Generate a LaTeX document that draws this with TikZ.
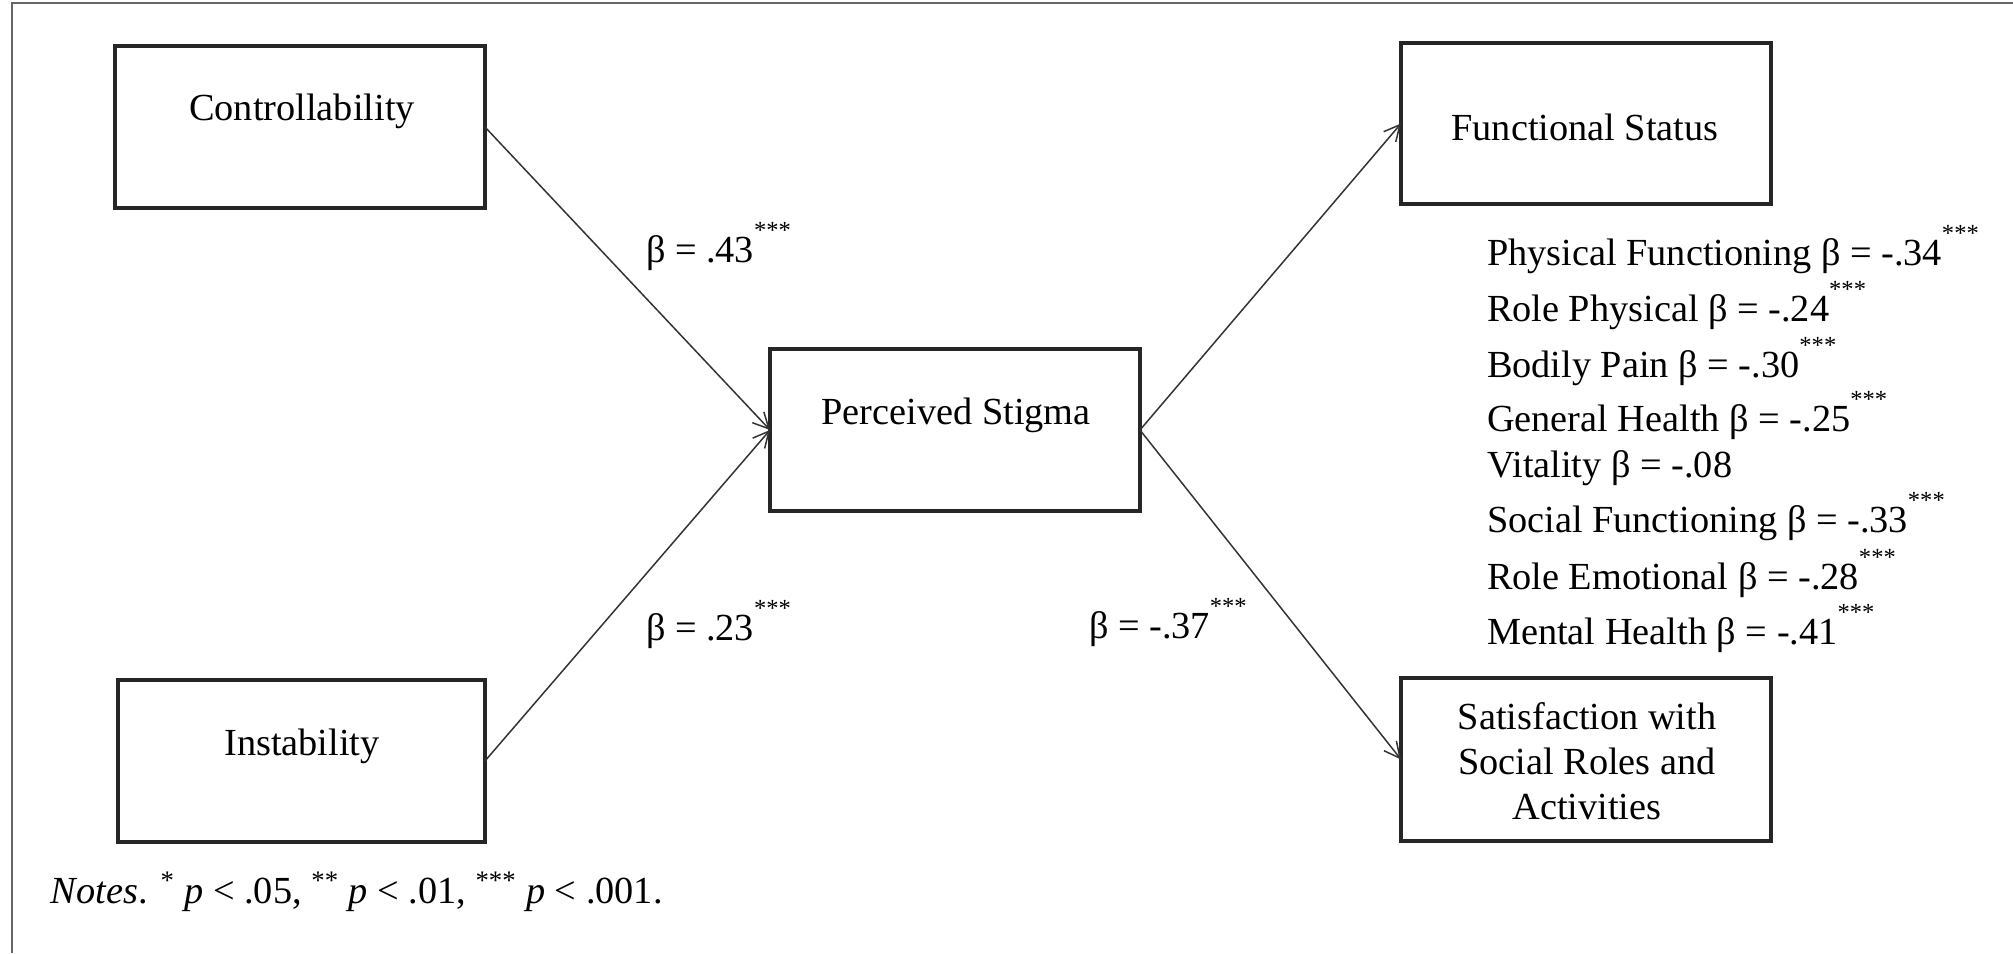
\documentclass[tikz,border=0pt]{standalone}
\usepackage{fontspec}
\setmainfont{Liberation Serif}
\usetikzlibrary{arrows.meta}
\newcommand{\mystars}{\raisebox{0.62em}{\fontsize{14}{14}\selectfont ***}}
\begin{document}
\begin{tikzpicture}[x=0.02cm,y=-0.02cm,
  every node/.style={font=\fontsize{21.8}{25.6}\selectfont, inner sep=0pt, outer sep=0pt},
  box/.style={draw=black!85, line width=2pt, minimum width=#1},
  conn/.style={draw=black!80, line width=0.85pt, -{Straight Barb[length=9pt,width=9pt,line width=0.85pt]}},
  lbl/.style={anchor=base west},
  frameline/.style={draw=black!60, line width=1.2pt}]
\useasboundingbox (0,0) rectangle (2013,953);
\draw[frameline] (12,953) -- (12,3) -- (2013,3);
% boxes
\node[box=7.4cm, minimum height=3.24cm] (ctrl) at (300,127) {};
\node[box=7.34cm, minimum height=3.24cm] (inst) at (301.5,761) {};
\node[box=7.4cm, minimum height=3.24cm] (ps) at (955,430) {};
\node[box=7.4cm, minimum height=3.22cm] (fs) at (1586,123.5) {};
\node[box=7.4cm, minimum height=3.26cm] (sat) at (1586,759.5) {};
% box texts
\node (ctrlt) at (302,111) {Controllability};
\node (instt) at (302,746) {Instability};
\node (pst) at (956,415) {Perceived Stigma};
\node (fst) at (1585,127) {Functional Status};
\node[align=center] (satt) at (1587,761) {Satisfaction with\\Social Roles and\\Activities};
% connectors
\draw[conn] (ctrl.east) -- (ps.west);
\draw[conn] (inst.east) -- (ps.west);
\draw[conn] (ps.east) -- (fs.west);
\draw[conn] (ps.east) -- (sat.west);
% path labels
\node[lbl] (b1) at (646,262) {β = .43\mystars};
\node[lbl] (b2) at (646,640) {β = .23\mystars};
\node[lbl] (b3) at (1089,638) {β = -.37\mystars};
% list
\node[lbl] (l1) at (1487,265) {Physical Functioning β = -.34\mystars};
\node[lbl] (l2) at (1487,321) {Role Physical β = -.24\mystars};
\node[lbl] (l3) at (1487,377) {Bodily Pain β = -.30\mystars};
\node[lbl] (l4) at (1487,431) {General Health β = -.25\mystars};
\node[lbl] (l5) at (1487,477) {Vitality β = -.08};
\node[lbl] (l6) at (1487,532) {Social Functioning β = -.33\mystars};
\node[lbl] (l7) at (1487,589) {Role Emotional β = -.28\mystars};
\node[lbl] (l8) at (1487,644) {Mental Health β = -.41\mystars};
% notes
\node[lbl] (notes) at (51,903) {\textit{Notes}. \textsuperscript{*} \textit{p} < .05, \textsuperscript{**} \textit{p} < .01, \textsuperscript{***} \textit{p} < .001.};
\end{tikzpicture}
\end{document}
